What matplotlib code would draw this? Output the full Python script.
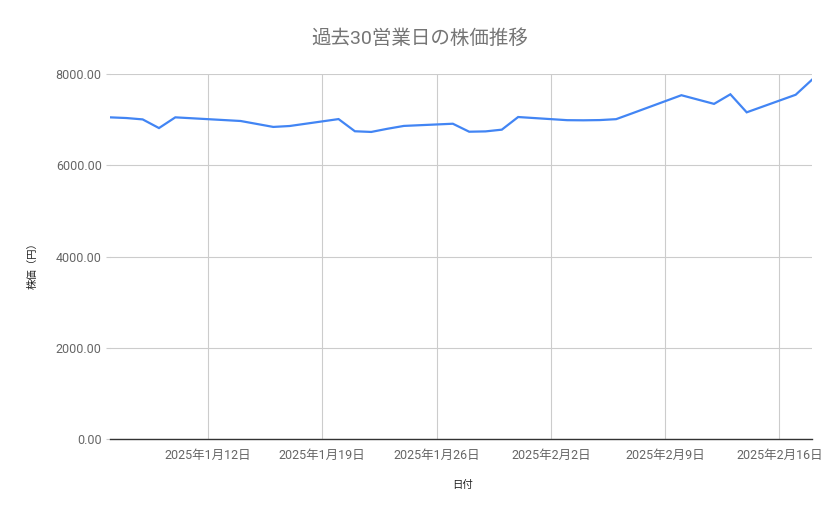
import datetime as dt
import matplotlib
matplotlib.use("Agg")
import matplotlib.pyplot as plt
import matplotlib.dates as mdates
from matplotlib.ticker import FuncFormatter

plt.rcParams['font.family'] = ['Roboto', 'Noto Sans CJK JP', 'DejaVu Sans']

# 過去30営業日 (祝日 1/13, 2/11 を除く)
dates = [
    "2025-01-06", "2025-01-07", "2025-01-08", "2025-01-09", "2025-01-10",
    "2025-01-14", "2025-01-15", "2025-01-16", "2025-01-17",
    "2025-01-20", "2025-01-21", "2025-01-22", "2025-01-23", "2025-01-24",
    "2025-01-27", "2025-01-28", "2025-01-29", "2025-01-30", "2025-01-31",
    "2025-02-03", "2025-02-04", "2025-02-05", "2025-02-06", "2025-02-07",
    "2025-02-10", "2025-02-12", "2025-02-13", "2025-02-14",
    "2025-02-17", "2025-02-18",
]
prices = [
    7050, 7035, 7005, 6815, 7050,
    6970, 6905, 6840, 6860,
    7012, 6745, 6730, 6800, 6862,
    6910, 6735, 6742, 6780, 7057,
    6988, 6985, 6990, 7010, 7140,
    7535, 7345, 7555, 7160,
    7545, 7875,
]
tick_dates = ["2025-01-12", "2025-01-19", "2025-01-26", "2025-02-02", "2025-02-09", "2025-02-16"]

x = [dt.datetime.strptime(d, "%Y-%m-%d") for d in dates]
ticks = [dt.datetime.strptime(d, "%Y-%m-%d") for d in tick_dates]

fig = plt.figure(figsize=(8.39, 5.19), dpi=100)
ax = fig.add_axes([110 / 839, 80 / 519, 702 / 839, 365 / 519])

ax.plot(x, prices, color="#4285F4", linewidth=1.6, solid_joinstyle="miter")

ax.set_xlim(x[0], x[-1])
ax.set_ylim(0, 8000)
ax.set_yticks([0, 2000, 4000, 6000, 8000])
ax.yaxis.set_major_formatter(FuncFormatter(lambda v, p: f"{v:.2f}"))
ax.set_xticks(ticks)
ax.set_xticklabels([f"{t.year}年{t.month}月{t.day}日" for t in ticks])

ax.grid(True, color="#cccccc", linewidth=0.8)
ax.set_axisbelow(True)
for s in ["top", "right", "left"]:
    ax.spines[s].set_visible(False)
ax.spines["bottom"].set_color("#333333")
ax.spines["bottom"].set_linewidth(1.0)
ax.spines["bottom"].set_zorder(3)

ax.tick_params(axis="y", length=3, color="#cccccc", labelsize=9, labelcolor="#666666", pad=3)
ax.tick_params(axis="x", length=0, labelsize=9, labelcolor="#666666", pad=7)

fig.text(420 / 839, 1 - 39 / 519, "過去30営業日の株価推移", ha="center", va="center",
         fontsize=14, color="#757575")
fig.text(33 / 839, 1 - 263 / 519, "株価（円）", ha="center", va="center", rotation=90,
         fontsize=7.5, color="#222222")
fig.text(463 / 839, 1 - 485 / 519, "日付", ha="center", va="center",
         fontsize=7.5, color="#222222")

fig.savefig("out.png", dpi=100)
